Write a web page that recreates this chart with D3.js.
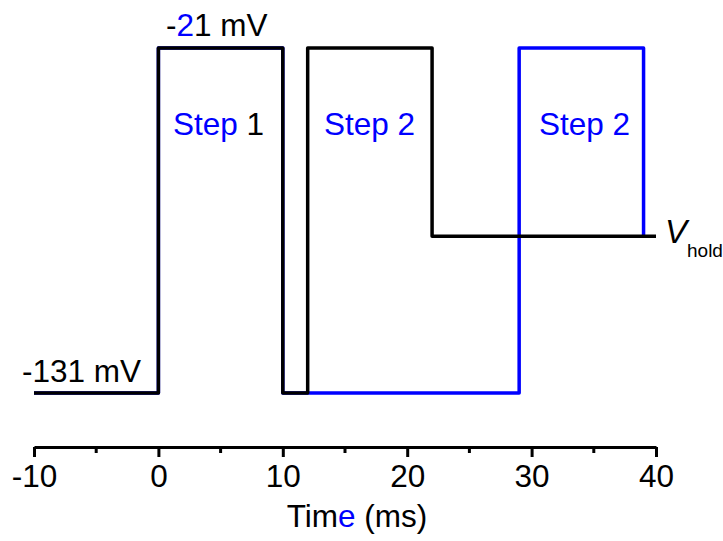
<!DOCTYPE html>
<html>
<head>
<meta charset="utf-8">
<script src="https://cdn.jsdelivr.net/npm/d3@7"></script>
<style>
  body { margin: 0; background: #fff; }
  svg text { font-family: "Liberation Sans", Arial, sans-serif; }
</style>
</head>
<body>
<div id="chart"></div>
<script>
// Voltage protocol: two-step pulse
const blueTimes = [-10, 0, 0, 10, 10, 29, 29, 39, 39];
const blueVolts = [-131, -131, -21, -21, -131, -131, -21, -21, -81];
const blackTimes = [-10, 0, 0, 10, 10, 12, 12, 22, 22, 40];
const blackVolts = [-131, -131, -21, -21, -131, -131, -21, -21, -81, -81];
const majorTicks = [-10, 0, 10, 20, 30, 40];
const minorTicks = [-5, 5, 15, 25, 35];

const W = 723, H = 541;
const BLUE = '#0000ff';
const FS = '31.5px';

const svg = d3.select('#chart').append('svg')
    .attr('width', W)
    .attr('height', H);

const x = d3.scaleLinear().domain([-10, 40]).range([34, 656]);
const y = d3.scaleLinear().domain([-131, -21]).range([393, 48]);

const line = d3.line()
    .x(d => x(d[0]))
    .y(d => y(d[1]))
    .curve(d3.curveLinear);

const blue = blueTimes.map((t, i) => [t, blueVolts[i]]);
const black = blackTimes.map((t, i) => [t, blackVolts[i]]);

svg.append('path')
    .datum(blue)
    .attr('d', line)
    .style('fill', 'none')
    .style('stroke', BLUE)
    .style('stroke-width', 3.5)
    .style('stroke-linejoin', 'round');

svg.append('path')
    .datum(black)
    .attr('d', line)
    .style('fill', 'none')
    .style('stroke', '#000')
    .style('stroke-width', 3.5)
    .style('stroke-linejoin', 'round');

// x axis
const axisY = 447;
const axis = svg.append('g').attr('transform', `translate(0,${axisY})`);
axis.call(d3.axisBottom(x).tickValues(majorTicks).tickSize(10).tickSizeOuter(0).tickFormat(d3.format('d')));
axis.select('.domain').style('stroke-width', 3);
axis.selectAll('.tick line').style('stroke-width', 3);
axis.selectAll('.tick text')
    .attr('y', 40)
    .attr('dy', 0)
    .style('font-size', FS)
    .style('fill', '#000')
    .text(d => d < 0 ? '-' + Math.abs(d) : d);

axis.selectAll('.minor')
    .data(minorTicks)
    .enter().append('line')
    .attr('x1', d => x(d)).attr('x2', d => x(d))
    .attr('y1', 0).attr('y2', 6)
    .style('stroke', '#000')
    .style('stroke-width', 3);

// axis title
const title = svg.append('text')
    .attr('x', 357).attr('y', 527)
    .attr('text-anchor', 'middle')
    .style('font-size', FS);
title.append('tspan').text('Tim');
title.append('tspan').style('fill', BLUE).text('e');
title.append('tspan').text(' (ms)');

// level labels
const topLabel = svg.append('text')
    .attr('x', 166).attr('y', 36)
    .style('font-size', FS);
topLabel.append('tspan').text('-');
topLabel.append('tspan').style('fill', BLUE).text('2');
topLabel.append('tspan').text('1 mV');

svg.append('text')
    .attr('x', 22).attr('y', 382)
    .style('font-size', FS)
    .text('-131 mV');

const s1 = svg.append('text')
    .attr('x', 173).attr('y', 135)
    .style('font-size', FS);
s1.append('tspan').style('fill', BLUE).text('Step');
s1.append('tspan').text(' 1');

svg.append('text')
    .attr('x', 324).attr('y', 135)
    .style('font-size', FS)
    .style('fill', BLUE)
    .text('Step 2');

svg.append('text')
    .attr('x', 539).attr('y', 135)
    .style('font-size', FS)
    .style('fill', BLUE)
    .text('Step 2');

const vh = svg.append('text')
    .attr('x', 665).attr('y', 243)
    .style('font-size', '33px');
vh.append('tspan').style('font-style', 'italic').text('V');
vh.append('tspan').attr('dy', 14).attr('dx', 0).style('font-size', '19px').text('hold');
</script>
</body>
</html>
